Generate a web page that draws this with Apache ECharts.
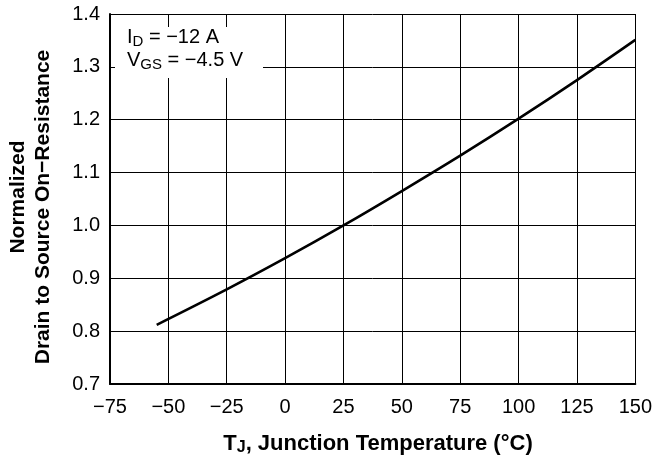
<!DOCTYPE html>
<html>
<head>
<meta charset="utf-8">
<script src="https://cdn.jsdelivr.net/npm/echarts@6/dist/echarts.min.js"></script>
<style>
html,body{margin:0;padding:0;background:#fff;}
#chart{width:655px;height:462px;}
</style>
</head>
<body>
<div id="chart"></div>
<script>
// Data
const temperatureC = [-55, -25, 0, 25, 50, 75, 100, 125, 150];
const normalizedRds = [0.812, 0.879, 0.938, 1.0, 1.065, 1.132, 1.202, 1.275, 1.351];
const xTicks = [-75, -50, -25, 0, 25, 50, 75, 100, 125, 150];
const yTicks = [0.7, 0.8, 0.9, 1.0, 1.1, 1.2, 1.3, 1.4];
const annotationLines = ['I{sub|D} = −12 A', 'V{sub|GS} = −4.5 V'];
const xTitle = 'T{sub|J}, Junction Temperature (°C)';
const yTitleLines = ['Normalized', 'Drain to Source On−Resistance'];

const FONT = '"Liberation Sans", Arial, Helvetica, sans-serif';
const chart = echarts.init(document.getElementById('chart'), null, {renderer: 'canvas'});

const seriesData = temperatureC.map((t, i) => [t, normalizedRds[i]]);

chart.setOption({
  animation: false,
  backgroundColor: '#fff',
  grid: {left: 110, right: 17, top: 14, bottom: 78, containLabel: false},
  xAxis: {
    type: 'value',
    min: xTicks[0], max: xTicks[xTicks.length - 1], interval: 25,
    axisLine: {show: true, onZero: false, lineStyle: {color: '#000', width: 2}},
    axisTick: {show: false},
    axisLabel: {
      color: '#000', fontSize: 20, fontFamily: FONT, margin: 13,
      formatter: v => String(v).replace('-', '\u2212')
    },
    splitLine: {show: true, lineStyle: {color: '#000', width: 1}}
  },
  yAxis: {
    type: 'value',
    min: yTicks[0], max: yTicks[yTicks.length - 1], interval: 0.1,
    axisLine: {show: true, onZero: false, lineStyle: {color: '#000', width: 2}},
    axisTick: {show: false},
    axisLabel: {
      color: '#000', fontSize: 20, fontFamily: FONT, margin: 10,
      formatter: v => v.toFixed(1)
    },
    splitLine: {show: true, lineStyle: {color: '#000', width: 1}}
  },
  series: [{
    type: 'line',
    data: seriesData,
    smooth: 0.4,
    showSymbol: false,
    lineStyle: {color: '#000', width: 2.6},
    z: 3
  }],
  graphic: [
    {
      type: 'rect', z: 10,
      shape: {x: 115, y: 27, width: 148, height: 51},
      style: {fill: '#fff'}
    },
    {
      type: 'text', z: 11, left: 127, top: 26,
      style: {
        text: annotationLines.join('\n'),
        font: '20px ' + FONT, fill: '#000', lineHeight: 23,
        rich: {
          sub: {fontSize: 15, fontFamily: FONT, lineHeight: 12, verticalAlign: 'bottom', fill: '#000'}
        }
      }
    },
    {
      type: 'text', z: 11, x: 378, y: 431,
      style: {
        text: xTitle,
        font: 'bold 22px ' + FONT, fill: '#000', align: 'center', lineHeight: 25,
        rich: {
          sub: {fontSize: 16, fontWeight: 'bold', fontFamily: FONT, lineHeight: 13, verticalAlign: 'bottom', fill: '#000'}
        }
      }
    },
    {
      type: 'text', z: 11, x: 18, y: 197, rotation: Math.PI / 2,
      style: {
        text: yTitleLines[0],
        font: 'bold 21px ' + FONT, fill: '#000', align: 'center', verticalAlign: 'middle'
      }
    },
    {
      type: 'text', z: 11, x: 43, y: 207, rotation: Math.PI / 2,
      style: {
        text: yTitleLines[1],
        font: 'bold 21px ' + FONT, fill: '#000', align: 'center', verticalAlign: 'middle'
      }
    }
  ]
});
</script>
</body>
</html>
